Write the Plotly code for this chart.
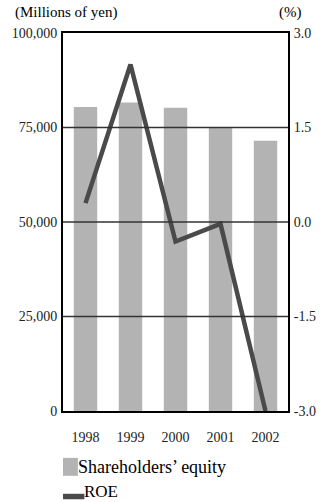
import plotly.graph_objects as go

# Fiscal years and values
years = ["1998", "1999", "2000", "2001", "2002"]
equity = [80400, 81600, 80200, 75100, 71500]   # millions of yen
roe = [0.30, 2.50, -0.31, -0.03, -3.0]          # percent

left_ticks = [0, 25000, 50000, 75000, 100000]
left_labels = ["0", "25,000", "50,000", "75,000", "100,000"]
right_ticks = [-3.0, -1.5, 0.0, 1.5, 3.0]
right_labels = ["-3.0", "-1.5", "0.0", "1.5", "3.0"]

BAR_COLOR = "#b3b3b3"
LINE_COLOR = "#4a4a4a"
FONT = "Liberation Serif"

fig = go.Figure()

fig.add_trace(go.Bar(
    x=years, y=equity, name="Shareholders\u2019 equity",
    marker=dict(color=BAR_COLOR, line=dict(width=0)),
    yaxis="y", showlegend=False,
))
fig.add_trace(go.Scatter(
    x=years, y=roe, name="ROE", mode="lines",
    line=dict(color=LINE_COLOR, width=4.5),
    yaxis="y2", showlegend=False,
))

# Horizontal rules across the plot drawn over the bars
shapes = []
for v in left_ticks[1:-1]:
    shapes.append(dict(type="line", xref="paper", x0=0, x1=1, yref="y", y0=v, y1=v,
                       line=dict(color="#333333", width=1.5), layer="above"))

# Legend swatches
shapes.append(dict(type="rect", xref="paper", yref="paper", x0=0.0, x1=16 / 242,
                   y0=-(476 - 411) / 379, y1=-(458 - 411) / 379,
                   fillcolor=BAR_COLOR, line=dict(width=0)))
shapes.append(dict(type="rect", xref="paper", yref="paper", x0=0.0, x1=23 / 242,
                   y0=-(499.5 - 411) / 379, y1=-(494 - 411) / 379,
                   fillcolor=LINE_COLOR, line=dict(width=0)))

annotations = [
    dict(text="(Millions of yen)", xref="paper", yref="paper", x=-54 / 242, y=1 + 10 / 379,
         xanchor="left", yanchor="bottom", showarrow=False,
         font=dict(family=FONT, size=15, color="#000")),
    dict(text="(%)", xref="paper", yref="paper", x=1 + 17 / 242, y=1 + 10 / 379,
         xanchor="right", yanchor="bottom", showarrow=False,
         font=dict(family=FONT, size=15, color="#000")),
    dict(text="Shareholders\u2019 equity", xref="paper", yref="paper", x=15 / 242,
         y=-(467 - 411) / 379, xanchor="left", yanchor="middle", showarrow=False,
         borderpad=0, font=dict(family=FONT, size=18, color="#000")),
    dict(text="ROE", xref="paper", yref="paper", x=22 / 242,
         y=-(492 - 411) / 379, xanchor="left", yanchor="middle", showarrow=False,
         borderpad=0, font=dict(family=FONT, size=17, color="#000")),
]

fig.update_layout(
    width=328, height=502,
    margin=dict(l=54, r=32, t=33, b=91),
    paper_bgcolor="white", plot_bgcolor="white",
    bargap=0.48,
    font=dict(family=FONT, size=14, color="#000"),
    xaxis=dict(
        type="category", showgrid=False, showline=True, mirror=True,
        linecolor="#000", linewidth=2, ticks="", ticklabelstandoff=12,
        tickfont=dict(family=FONT, size=14, color="#222"),
    ),
    yaxis=dict(
        range=[0, 100000], tickvals=left_ticks, ticktext=left_labels,
        showgrid=False, zeroline=False, showline=True, linecolor="#000", linewidth=2,
        ticks="", ticklabelstandoff=1,
        tickfont=dict(family=FONT, size=14, color="#222"),
    ),
    yaxis2=dict(
        range=[-3, 3], tickvals=right_ticks, ticktext=right_labels,
        overlaying="y", side="right", showgrid=False, zeroline=False,
        showline=True, linecolor="#000", linewidth=2, ticks="", ticklabelstandoff=1,
        tickfont=dict(family=FONT, size=14, color="#222"),
    ),
    shapes=shapes,
    annotations=annotations,
)

fig.write_html("out.html")
